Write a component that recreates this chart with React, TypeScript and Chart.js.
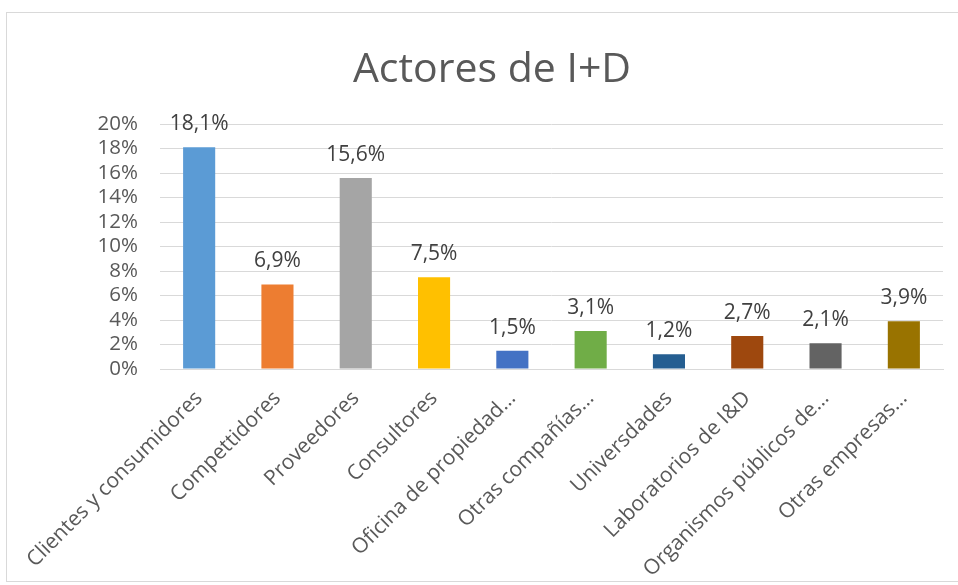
import React, { useEffect, useRef } from "react";
import { Chart, registerables } from "chart.js";

Chart.register(...registerables);

const title = "Actores de I+D";
const categories = [
  "Clientes y consumidores",
  "Compettidores",
  "Proveedores",
  "Consultores",
  "Oficina de propiedad…",
  "Otras compañías…",
  "Universdades",
  "Laboratorios de I&D",
  "Organismos públicos de…",
  "Otras empresas…",
];
const values = [18.1, 6.9, 15.6, 7.5, 1.5, 3.1, 1.2, 2.7, 2.1, 3.9];
const colors = [
  "#5B9BD5",
  "#ED7D31",
  "#A5A5A5",
  "#FFC000",
  "#4472C4",
  "#70AD47",
  "#255E91",
  "#9E480E",
  "#636363",
  "#997300",
];
const yTicks = [0, 2, 4, 6, 8, 10, 12, 14, 16, 18, 20];

const FONT = "'Open Sans'";

const fmt = (v: number) => v.toFixed(1).replace(".", ",") + "%";

export default function App() {
  const ref = useRef<HTMLCanvasElement | null>(null);
  useEffect(() => {
    if (!ref.current) return;
    const labelPlugin = {
      id: "labels",
      afterDatasetsDraw(chart: any) {
        const ctx = chart.ctx;
        ctx.save();
        ctx.font = `21px ${FONT}`;
        ctx.fillStyle = "#404040";
        ctx.textAlign = "center";
        ctx.textBaseline = "alphabetic";
        chart.getDatasetMeta(0).data.forEach((bar: any, i: number) => {
          ctx.fillText(fmt(values[i]), bar.x, bar.y - 17);
        });
        ctx.restore();
      },
      afterDraw(chart: any) {
        const ctx = chart.ctx;
        ctx.save();
        ctx.font = `41px ${FONT}`;
        ctx.fillStyle = "#595959";
        ctx.textAlign = "center";
        ctx.textBaseline = "alphabetic";
        ctx.fillText(title, 492, 82);
        ctx.restore();
      },
    };
    const chart = new Chart(ref.current, {
      type: "bar",
      data: {
        labels: categories,
        datasets: [
          {
            data: values,
            backgroundColor: colors,
            barPercentage: 0.41,
            categoryPercentage: 1,
          },
        ],
      },
      plugins: [labelPlugin],
      options: {
        responsive: false,
        animation: false,
        layout: { padding: { left: 20, right: 15, top: 124, bottom: 0 } },
        plugins: {
          legend: { display: false },
          title: { display: false },
          tooltip: { enabled: false },
        },
        scales: {
          x: {
            afterFit: (s: any) => {
              s.height = 216;
            },
            grid: { display: false, drawTicks: false },
            border: { display: true, color: "#D9D9D9" },
            ticks: {
              autoSkip: false,
              maxRotation: 45,
              minRotation: 45,
              padding: 17,
              color: "#595959",
              font: { family: FONT, size: 21 },
            },
          },
          y: {
            min: 0,
            max: 20,
            afterFit: (s: any) => {
              s.width = 140;
            },
            afterBuildTicks: (s: any) => {
              s.ticks = yTicks.map((v) => ({ value: v }));
            },
            grid: { color: "#D9D9D9", drawTicks: false },
            border: { display: false },
            ticks: {
              autoSkip: false,
              padding: 22,
              color: "#595959",
              font: { family: FONT, size: 20.5 },
              callback: (v: any) => v + "%",
            },
          },
        },
      },
    });
    return () => chart.destroy();
  }, []);
  return (
    <div
      style={{
        position: "fixed",
        left: 0,
        top: 0,
        width: 958,
        height: 585,
        background: "#fff",
        overflow: "hidden",
      }}
    >
      <div
        style={{
          position: "absolute",
          left: 6,
          top: 12,
          width: 1000,
          height: 570,
          border: "1px solid #D9D9D9",
          boxSizing: "border-box",
        }}
      />
      <canvas
        ref={ref}
        width={958}
        height={585}
        style={{ position: "absolute", left: 0, top: 0 }}
      />
    </div>
  );
}
